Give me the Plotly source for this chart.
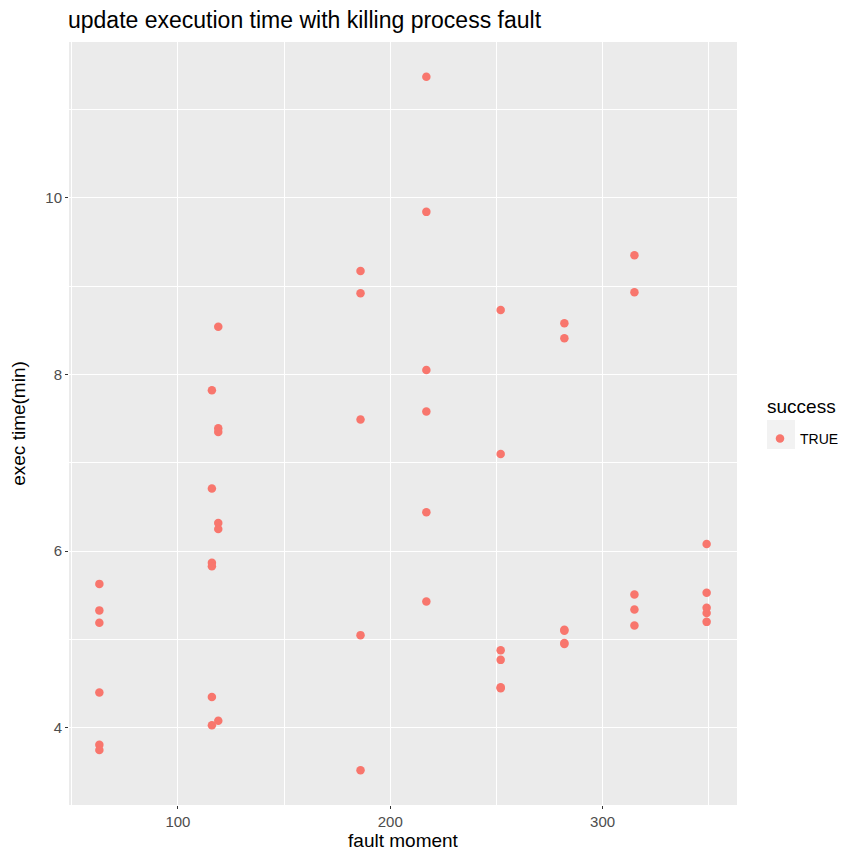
import plotly.graph_objects as go

# fault moment (x) and exec time in minutes (y)
fault_moment = [
    63, 63, 63, 63, 63, 63,
    116, 116, 116, 116, 116, 116,
    119, 119, 119, 119, 119, 119,
    186, 186, 186, 186, 186,
    217, 217, 217, 217, 217, 217,
    252, 252, 252, 252, 252, 252,
    282, 282, 282, 282, 282, 282,
    315, 315, 315, 315, 315,
    349, 349, 349, 349, 349,
]
exec_time = [
    5.63, 5.33, 5.19, 4.40, 3.81, 3.75,
    7.82, 6.71, 5.87, 5.83, 4.35, 4.03,
    8.54, 7.39, 7.35, 6.32, 6.25, 4.08,
    9.17, 8.92, 7.49, 5.05, 3.52,
    11.37, 9.84, 8.05, 7.58, 6.44, 5.43,
    8.73, 7.10, 4.88, 4.77, 4.46, 4.45,
    8.58, 8.41, 5.11, 5.10, 4.96, 4.95,
    9.35, 8.93, 5.51, 5.34, 5.16,
    6.08, 5.53, 5.36, 5.30, 5.20,
]
legend_title = "success"
legend_label = "TRUE"

FONT = "Liberation Sans, Arial, sans-serif"
PANEL_BG = "#EBEBEB"

# the page body adds an 8px margin on every side; keep the figure inside
# the window so no scrollbars appear
OFF = 8
W, H = 846 - 2 * OFF, 859 - 2 * OFF
# plot panel, in screen pixels
L, R, T, B = 69, 737, 42, 805


def px_x(p):
    return (p - L) / (R - L)


def px_y(p):
    return (B - p) / (B - T)


fig = go.Figure()
fig.add_trace(go.Scatter(
    x=fault_moment,
    y=exec_time,
    mode="markers",
    name=legend_label,
    marker=dict(color="#F8766D", size=8.5, line=dict(width=0)),
    showlegend=True,
))

xmin, xmax = min(fault_moment), max(fault_moment)
ymin, ymax = min(exec_time), max(exec_time)
xpad = (xmax - xmin) * 0.05
ypad = (ymax - ymin) * 0.05

axis_common = dict(
    automargin=False,
    showline=False,
    zeroline=False,
    gridcolor="white",
    gridwidth=1.1,
    ticks="outside",
    ticklen=3,
    tickwidth=1,
    tickcolor="#333333",
    tickfont=dict(family=FONT, size=15, color="#4D4D4D"),
)

fig.update_layout(
    width=W,
    height=H,
    margin=dict(l=L - OFF, r=W - (R - OFF), t=T - OFF, b=H - (B - OFF)),
    paper_bgcolor="white",
    plot_bgcolor=PANEL_BG,
    font=dict(family=FONT, color="black"),
    title=dict(
        text="update execution time with killing process fault",
        x=(68 - OFF) / W, xanchor="left",
        y=1 - 4 / H, yanchor="top", pad=dict(t=0),
        font=dict(family=FONT, size=23, color="black"),
    ),
    xaxis=dict(
        range=[xmin - xpad, xmax + xpad],
        tick0=0, dtick=100,
        minor=dict(dtick=50, tick0=0, showgrid=True, gridcolor="white", gridwidth=0.5, ticks=""),
        title=dict(text="fault moment", standoff=9, font=dict(family=FONT, size=19, color="black")),
        **axis_common,
    ),
    yaxis=dict(
        range=[ymin - ypad, ymax + ypad],
        tick0=0, dtick=2,
        minor=dict(dtick=1, tick0=0, showgrid=True, gridcolor="white", gridwidth=0.5, ticks=""),
        title=dict(text="exec time(min)", standoff=14, font=dict(family=FONT, size=19, color="black")),
        **axis_common,
    ),
    legend=dict(
        font=dict(family=FONT, size=14, color="black"),
        xref="container", yref="container",
        x=(760 - OFF) / W, xanchor="left",
        y=1 - (423 - OFF) / H, yanchor="top",
        bgcolor="rgba(0,0,0,0)",
    ),
    annotations=[dict(
        text=legend_title, xref="paper", yref="paper",
        x=px_x(765), y=px_y(406), xanchor="left", yanchor="middle",
        showarrow=False, font=dict(family=FONT, size=19, color="black"),
    )],
    shapes=[dict(
        type="rect", xref="paper", yref="paper",
        x0=px_x(767), x1=px_x(795), y0=px_y(449), y1=px_y(420),
        fillcolor="#F2F2F2", line=dict(width=0), layer="below",
    )],
)

fig.write_html("out.html")
